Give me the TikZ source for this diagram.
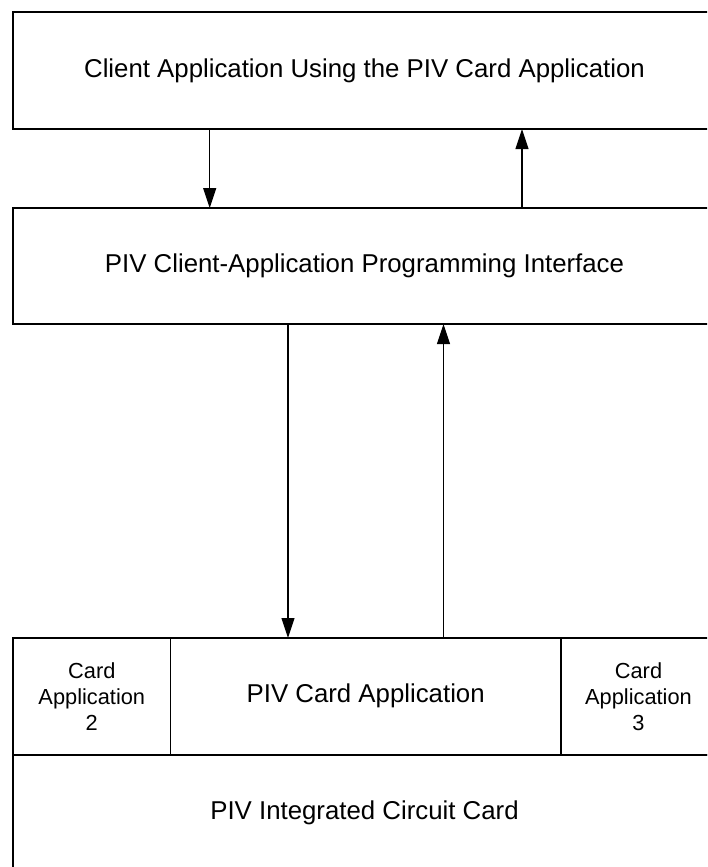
\documentclass[tikz,border=0pt]{standalone}
\usepackage{fontspec}
\setmainfont{Liberation Sans}
\usetikzlibrary{arrows.meta}
\begin{document}
\begin{tikzpicture}[x=1pt,y=-1pt,
  boxline/.style={draw=black,line width=1.1pt},
  bigtext/.style={font=\fontsize{25.8}{31}\selectfont,inner sep=0pt},
  smalltext/.style={font=\fontsize{21.8}{26}\selectfont,align=center,inner sep=0pt},
  flow/.style={draw=black,line width=1.1pt,-{Triangle[length=20pt,width=13pt]}}]
\useasboundingbox (0,0) rectangle (707,867);
\begin{scope}
\clip (0,0) rectangle (707,867);
% boxes
\path[boxline] (13,12) rectangle (716,129);
\path[boxline] (13,208) rectangle (716,324);
\path[boxline] (13,638) rectangle (170.5,755);
\path[boxline] (170.5,638) rectangle (561,755);
\path[boxline] (561,638) rectangle (716,755);
\path[boxline] (13,755) rectangle (716,871);
\end{scope}
% named nodes for box contents
\node[bigtext] (client) at (364.5,70.5) {Client Application Using the PIV Card Application};
\node[bigtext] (api) at (364.5,266) {PIV Client-Application Programming Interface};
\node[bigtext] (pivapp) at (365.7,696) {PIV Card Application};
\node[smalltext] (app2) at (91.8,696.5) {Card\\Application\\2};
\node[smalltext] (app3) at (638.5,696.5) {Card\\Application\\3};
\node[bigtext] (icc) at (364.5,813) {PIV Integrated Circuit Card};
% connector anchors on box edges
\coordinate (c1d) at (209.7,129);
\coordinate (a1d) at (209.7,208);
\coordinate (a1u) at (522,208);
\coordinate (c1u) at (522,129);
\coordinate (a2d) at (288,324);
\coordinate (p2d) at (288,638);
\coordinate (p2u) at (443.5,638);
\coordinate (a2u) at (443.5,324);
\draw[flow] (c1d) -- (a1d);
\draw[flow] (a1u) -- (c1u);
\draw[flow] (a2d) -- (p2d);
\draw[flow] (p2u) -- (a2u);
\end{tikzpicture}
\end{document}
